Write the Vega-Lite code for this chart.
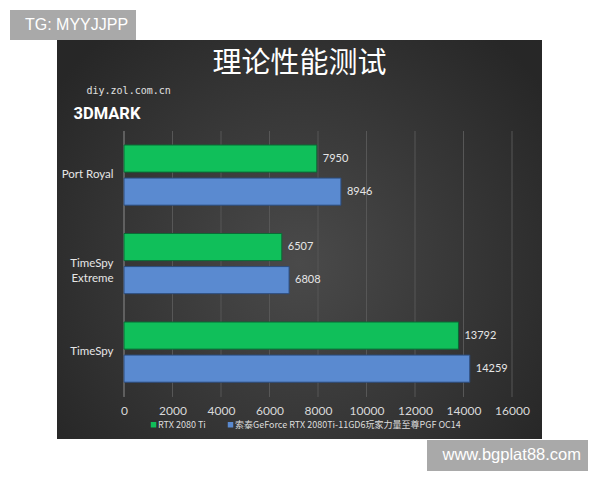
{
  "$schema": "https://vega.github.io/schema/vega-lite/v6.json",
  "width": 485,
  "height": 399,
  "autosize": {"type": "none"},
  "padding": {"left": 57, "top": 40, "right": 58, "bottom": 41},
  "background": "#ffffff",
  "config": {"view": {"stroke": null}},
  "title": {
    "text": "理论性能测试",
    "font": "Noto Sans CJK SC",
    "fontSize": 29,
    "fontWeight": "normal",
    "color": "#ffffff",
    "anchor": "middle",
    "frame": "group",
    "baseline": "alphabetic",
    "offset": -92,
    "zindex": 1
  },
  "layer": [
    {
      "data": {"values": [{}]},
      "mark": {
        "type": "rect",
        "fill": {
          "gradient": "radial",
          "x1": 0.5, "y1": 0.55, "r1": 0,
          "x2": 0.5, "y2": 0.55, "r2": 0.62,
          "stops": [
            {"offset": 0, "color": "#4a4a4a"},
            {"offset": 1, "color": "#272727"}
          ]
        }
      },
      "encoding": {}
    },
    {
      "data": {"values": [
        {"score": 0}, {"score": 2000}, {"score": 4000}, {"score": 6000}, {"score": 8000},
        {"score": 10000}, {"score": 12000}, {"score": 14000}, {"score": 16000}
      ]},
      "mark": {"type": "rule", "strokeWidth": 1},
      "encoding": {
        "x": {
          "field": "score", "type": "quantitative",
          "scale": {"domain": [-2763, 17237], "nice": false, "zero": false},
          "axis": {
            "values": [0, 2000, 4000, 6000, 8000, 10000, 12000, 14000, 16000],
            "format": "d", "offset": -42, "ticks": false, "domain": false, "grid": false, "zindex": 1,
            "labelColor": "#d9d9d9", "labelFont": "Lato", "labelFontSize": 12, "labelPadding": 8,
            "title": "diy.zol.com.cn", "titleX": 29, "titleY": -304, "titleAlign": "left",
            "titleBaseline": "alphabetic", "titleFont": "DejaVu Sans Mono", "titleFontSize": 10,
            "titleFontWeight": "normal", "titleColor": "#e0e0e0"
          }
        },
        "y": {"datum": 0, "type": "quantitative", "scale": {"domain": [-0.158, 1.342], "nice": false, "zero": false}, "axis": null},
        "y2": {"datum": 1},
        "color": {"condition": {"test": "datum.score == 0", "value": "#8c8c8c"}, "value": "#575757"}
      }
    },
    {
      "data": {"values": [
        {"test": "Port Royal", "series": "RTX 2080 Ti", "score": 7950},
        {"test": "Port Royal", "series": "索泰GeForce RTX 2080Ti-11GD6玩家力量至尊PGF OC14", "score": 8946},
        {"test": "TimeSpy Extreme", "series": "RTX 2080 Ti", "score": 6507},
        {"test": "TimeSpy Extreme", "series": "索泰GeForce RTX 2080Ti-11GD6玩家力量至尊PGF OC14", "score": 6808},
        {"test": "TimeSpy", "series": "RTX 2080 Ti", "score": 13792},
        {"test": "TimeSpy", "series": "索泰GeForce RTX 2080Ti-11GD6玩家力量至尊PGF OC14", "score": 14259}
      ]},
      "encoding": {
        "y": {
          "field": "test", "type": "nominal",
          "scale": {"domain": ["Port Royal", "TimeSpy Extreme", "TimeSpy"], "paddingInner": 0.32, "paddingOuter": 0.914, "align": 0.649, "round": false},
          "axis": {
            "orient": "left", "offset": -67, "ticks": false, "domain": false, "grid": false, "zindex": 1,
            "labelColor": "#e6e6e6", "labelFont": "Lato", "labelFontSize": 11.5, "labelPadding": 11,
            "labelLineHeight": 15,
            "labelExpr": "datum.value == 'TimeSpy Extreme' ? ['TimeSpy', 'Extreme'] : datum.value",
            "title": "3DMARK", "titleAngle": 0, "titleX": -51, "titleY": 78, "titleAlign": "left",
            "titleBaseline": "alphabetic", "titleFont": "Roboto", "titleFontSize": 16.5,
            "titleFontWeight": "bold", "titleColor": "#ffffff"
          }
        },
        "yOffset": {
          "field": "series", "type": "nominal",
          "scale": {"domain": ["RTX 2080 Ti", "索泰GeForce RTX 2080Ti-11GD6玩家力量至尊PGF OC14"], "paddingInner": 0.18, "paddingOuter": 0}
        }
      },
      "layer": [
        {
          "mark": {"type": "bar", "strokeWidth": 1},
          "encoding": {
            "x": {
              "field": "score", "type": "quantitative",
              "scale": {"domain": [-2763, 17237], "nice": false, "zero": false}
            },
            "x2": {"datum": 0},
            "color": {
              "field": "series", "type": "nominal",
              "scale": {"domain": ["RTX 2080 Ti", "索泰GeForce RTX 2080Ti-11GD6玩家力量至尊PGF OC14"], "range": ["#10bf5a", "#5a8ad0"]},
              "legend": {
                "title": null, "orient": "none", "legendX": 92, "legendY": 380, "direction": "horizontal",
                "symbolType": "square", "symbolSize": 30, "symbolStrokeWidth": 0, "labelOffset": 0,
                "columnPadding": 20, "labelFont": "Noto Sans CJK SC", "labelFontSize": 9,
                "labelColor": "#dddddd", "labelLimit": 400, "padding": 0
              }
            },
            "stroke": {
              "field": "series", "type": "nominal",
              "scale": {"domain": ["RTX 2080 Ti", "索泰GeForce RTX 2080Ti-11GD6玩家力量至尊PGF OC14"], "range": ["#0a6a35", "#2c4c7c"]},
              "legend": null
            }
          }
        },
        {
          "mark": {"type": "text", "align": "left", "baseline": "middle", "dx": 6, "font": "Lato", "fontSize": 11, "color": "#e6e6e6"},
          "encoding": {
            "x": {
              "field": "score", "type": "quantitative",
              "scale": {"domain": [-2763, 17237], "nice": false, "zero": false}
            },
            "text": {"field": "score", "type": "quantitative", "format": "d"}
          }
        }
      ]
    },
    {
      "data": {"values": [{"wm": "TG: MYYJJPP"}]},
      "mark": {"type": "point", "opacity": 0},
      "encoding": {
        "shape": {
          "field": "wm", "type": "nominal",
          "legend": {
            "title": null, "orient": "none", "legendX": -47, "legendY": -30,
            "fillColor": "#a9a9a9", "padding": 7, "symbolSize": 0, "symbolOpacity": 0,
            "symbolStrokeWidth": 0, "labelOffset": -8, "labelColor": "#ffffff",
            "labelFont": "Liberation Sans", "labelFontSize": 16, "labelLimit": 300,
            "labelExpr": "datum.label + '\u00a0\u00a0'"
          }
        }
      }
    },
    {
      "data": {"values": [{"wm": "www.bgplat88.com"}]},
      "mark": {"type": "point", "opacity": 0},
      "encoding": {
        "strokeDash": {
          "field": "wm", "type": "nominal",
          "legend": {
            "title": null, "orient": "none", "legendX": 370, "legendY": 400,
            "fillColor": "#a9a9a9", "padding": 7, "symbolSize": 0, "symbolOpacity": 0,
            "symbolStrokeWidth": 0, "labelOffset": -8, "labelColor": "#ffffff",
            "labelFont": "Liberation Sans", "labelFontSize": 16.5, "labelLimit": 300,
            "labelExpr": "datum.label + '\u00a0\u00a0'"
          }
        }
      }
    }
  ],
  "resolve": {"scale": {"y": "independent"}}
}
